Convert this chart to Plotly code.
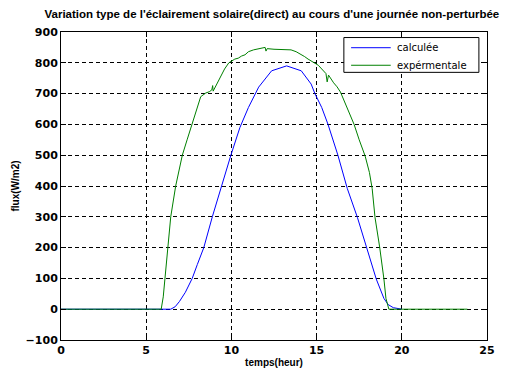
import plotly.graph_objects as go

# Computed direct irradiance (W/m2) over the day
t_calc = [0, 6.0, 6.44, 6.7, 6.95, 7.3, 7.7, 8.0, 8.38, 8.88, 9.42, 9.97, 10.5,
          11.0, 11.6, 12.36, 13.24, 14.1, 14.68, 14.9, 15.3, 15.67, 16.25, 16.8,
          17.4, 17.96, 18.5, 18.95, 19.2, 19.5, 19.8, 20.0]
flux_calc = [0, 0, 0, 8, 25, 55, 100, 145, 200, 300, 400, 500, 590,
             655, 721, 774, 790, 774, 731, 700, 655, 600, 500, 392,
             297, 193, 98, 35, 15, 5, 1, 0]

# Measured irradiance (W/m2)
t_exp = [0, 5.88, 6.0, 6.1, 6.25, 6.44, 6.73, 7.12, 7.4, 7.7, 8.0, 8.2, 8.5,
         8.7, 8.85, 8.9, 8.93, 9.0, 9.3, 9.6, 9.85, 10.2, 10.4, 10.6, 10.8,
         11.0, 11.3, 11.6, 11.98, 12.03, 12.1, 12.5, 13.0, 13.5, 13.8, 14.1,
         14.3, 14.5, 14.9, 15.1, 15.3, 15.55, 15.62, 15.7, 16.0, 16.2, 16.4,
         16.8, 17.2, 17.5, 17.85, 18.1, 18.26, 18.43, 18.7, 18.95, 19.07,
         19.24, 23.85]
flux_exp = [0, 0, 40, 100, 200, 300, 400, 500, 550, 600, 650, 690, 702,
            706, 712, 726, 708, 715, 750, 780, 800, 812, 815, 822, 826,
            836, 842, 846, 850, 838, 846, 844, 842, 842, 836, 827,
            820, 812, 800, 792, 780, 765, 738, 760, 735, 722, 705,
            655, 600, 550, 497, 444, 392, 297, 202, 98, 35,
            0, 0]

series_names = ["calculée", "expérmentale"]
series_colors = ["#0000ff", "#008000"]

x_ticks = [0, 5, 10, 15, 20, 25]
y_ticks = [-100, 0, 100, 200, 300, 400, 500, 600, 700, 800, 900]

fig = go.Figure()
fig.add_trace(go.Scatter(x=t_calc, y=flux_calc, mode="lines", name=series_names[0],
                         line=dict(color=series_colors[0], width=1)))
fig.add_trace(go.Scatter(x=t_exp, y=flux_exp, mode="lines", name=series_names[1],
                         line=dict(color=series_colors[1], width=1)))

tick_font = dict(family="DejaVu Sans", size=11, color="black", weight="bold")
axis_common = dict(
    showline=True, linecolor="black", linewidth=1, mirror="allticks",
    ticks="inside", ticklen=5, tickcolor="black",
    showgrid=True, gridcolor="black", gridwidth=1, griddash="4px,3px",
    zeroline=False, tickfont=tick_font,
)

# Boxed legend in the upper-right corner of the axes
shapes = [dict(type="rect", xref="paper", yref="paper",
               x0=0.664, x1=0.981, y0=0.869, y1=0.982,
               line=dict(color="black", width=1), fillcolor="white", layer="above")]
annotations = []
for i, (name, color) in enumerate(zip(series_names, series_colors)):
    yy = 0.949 - i * 0.057
    shapes.append(dict(type="line", xref="paper", yref="paper",
                       x0=0.681, x1=0.774, y0=yy, y1=yy,
                       line=dict(color=color, width=1), layer="above"))
    annotations.append(dict(text=name, xref="paper", yref="paper", x=0.784, y=yy,
                            xanchor="left", yanchor="middle", showarrow=False,
                            font=dict(family="DejaVu Sans", size=10, color="black")))

fig.update_layout(
    width=507, height=378,
    margin=dict(l=61, r=17, t=32, b=32),
    paper_bgcolor="white", plot_bgcolor="white",
    title=dict(
        text="Variation type de l'éclairement solaire(direct) au cours d'une journée non-perturbée",
        xref="paper", x=0.495, xanchor="center", y=0.962, yanchor="middle",
        font=dict(family="Liberation Sans", size=11.5, color="black", weight="bold"),
    ),
    xaxis=dict(range=[0, 25], tickvals=x_ticks,
               title=dict(text="temps(heur)", standoff=2,
                          font=dict(family="Liberation Sans", size=10, color="black", weight="bold")),
               **axis_common),
    yaxis=dict(range=[-100, 900], tickvals=y_ticks,
               title=dict(text="flux(W/m2)", standoff=4,
                          font=dict(family="Liberation Sans", size=10, color="black", weight="bold")),
               **axis_common),
    shapes=shapes,
    annotations=annotations,
    showlegend=False,
)

fig.write_html("out.html")
